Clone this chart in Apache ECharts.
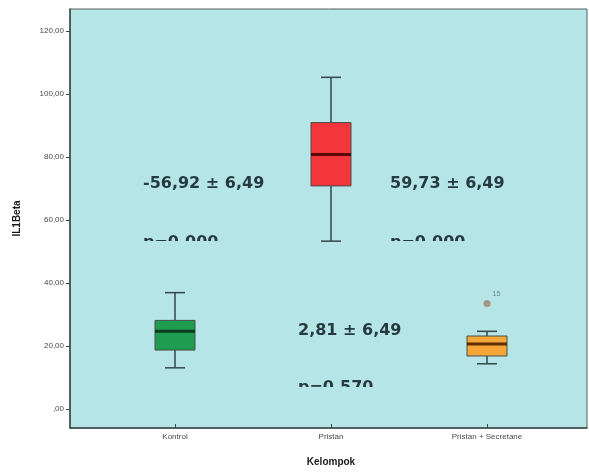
<!DOCTYPE html>
<html>
<head>
<meta charset="utf-8">
<script src="https://cdn.jsdelivr.net/npm/echarts@6/dist/echarts.min.js"></script>
<style>
  html, body { margin: 0; padding: 0; background: #fff; }
  #chart { width: 589px; height: 472px; }
</style>
</head>
<body>
<div id="chart"></div>
<script>
const categories = ["Kontrol", "Pristan", "Pristan + Secretane"];
// low whisker, Q1, median, Q3, high whisker
const kontrolBox = [12.0, 17.7, 23.7, 27.2, 36.1];
const pristanBox = [52.6, 70.3, 80.4, 90.6, 105.1];
const secretaneBox = [13.3, 15.8, 19.6, 22.2, 23.7];
const outliers = [[2, 32.6, "15"]];
const yTicks = [0, 20, 40, 60, 80, 100, 120];

const boxFill = ["#1f9c50", "#f2363c", "#f5a638"];
const medianColor = ["#0c3a1d", "#5a0808", "#5e2c00"];
const bg = "#b5e5e6";
const ink = "#263b3f";

const fmtTick = (v) => (v === 0 ? ",00" : v.toFixed(2).replace(".", ","));

const boxes = [kontrolBox, pristanBox, secretaneBox].map((b, i) => [i, ...b]);

const chart = echarts.init(document.getElementById("chart"));

const renderBox = (params, api) => {
  const i = api.value(0);
  const pLow = api.coord([i, api.value(1)]);
  const pQ1 = api.coord([i, api.value(2)]);
  const pMed = api.coord([i, api.value(3)]);
  const pQ3 = api.coord([i, api.value(4)]);
  const pHigh = api.coord([i, api.value(5)]);
  const cx = pMed[0];
  const half = 20;
  const cap = 10;
  const line = { stroke: "#34464a", lineWidth: 1.5 };
  return {
    type: "group",
    children: [
      { type: "line", shape: { x1: cx, y1: pHigh[1], x2: cx, y2: pQ3[1] }, style: line },
      { type: "line", shape: { x1: cx, y1: pQ1[1], x2: cx, y2: pLow[1] }, style: line },
      { type: "line", shape: { x1: cx - cap, y1: pHigh[1], x2: cx + cap, y2: pHigh[1] }, style: line },
      { type: "line", shape: { x1: cx - cap, y1: pLow[1], x2: cx + cap, y2: pLow[1] }, style: line },
      {
        type: "rect",
        shape: { x: cx - half, y: pQ3[1], width: half * 2, height: pQ1[1] - pQ3[1] },
        style: { fill: boxFill[i], stroke: "#44504a", lineWidth: 1 },
      },
      {
        type: "line",
        shape: { x1: cx - half, y1: pMed[1], x2: cx + half, y2: pMed[1] },
        style: { stroke: medianColor[i], lineWidth: 3 },
      },
    ],
  };
};

const textFont = "DejaVu Sans";
const note = (x, y, text) => ({
  type: "text",
  left: x,
  top: y,
  z: 10,
  style: { text, fill: ink, font: "bold 16px '" + textFont + "'" },
});
// the p-value lines are cut in half in the original picture
const cover = (x, y, w) => ({
  type: "rect",
  left: x,
  top: y,
  z: 11,
  shape: { width: w, height: 14 },
  style: { fill: bg },
});

const option = {
  animation: false,
  backgroundColor: "#ffffff",
  grid: [
    {
      left: 70, right: 2, top: 9, bottom: 44,
      show: true, backgroundColor: bg, borderColor: "#56605f", borderWidth: 1,
    },
    { left: 97, right: 24, top: 9, bottom: 44 },
  ],
  xAxis: [
    {
      gridIndex: 0, type: "category", data: categories,
      axisLine: { onZero: false, lineStyle: { color: "#3c4848", width: 1.5 } },
      axisTick: { show: false }, axisLabel: { show: false },
    },
    {
      gridIndex: 1, type: "category", data: categories,
      axisLine: { show: false, onZero: false },
      axisTick: { show: true, alignWithLabel: true, length: 4, lineStyle: { color: "#3c4848" } },
      axisLabel: { fontSize: 8, color: "#4a4a4a", margin: 9, fontFamily: "Liberation Sans" },
      name: "Kelompok", nameLocation: "middle", nameGap: 33,
      nameTextStyle: { fontSize: 10, fontWeight: "bold", color: "#1a1a1a", fontFamily: "Liberation Sans" },
    },
  ],
  yAxis: [
    {
      gridIndex: 0, type: "value", min: -6, max: 127,
      axisLine: { show: true, lineStyle: { color: "#3c4848", width: 1.5 } },
      axisTick: { show: true, length: 4, customValues: yTicks, lineStyle: { color: "#3c4848" } },
      axisLabel: {
        customValues: yTicks, formatter: fmtTick, fontSize: 8, color: "#4a4a4a",
        margin: 6, fontFamily: "Liberation Sans",
      },
      splitLine: { show: false },
      name: "IL1Beta", nameLocation: "middle", nameGap: 48,
      nameTextStyle: { fontSize: 10, fontWeight: "bold", color: "#1a1a1a", fontFamily: "Liberation Sans" },
    },
    { gridIndex: 1, type: "value", min: -6, max: 127, show: false, splitLine: { show: false } },
  ],
  series: [
    {
      type: "custom",
      xAxisIndex: 1, yAxisIndex: 1,
      renderItem: renderBox,
      encode: { x: 0, y: [1, 2, 3, 4, 5] },
      data: boxes,
    },
    {
      type: "scatter",
      xAxisIndex: 1, yAxisIndex: 1,
      symbolSize: 7,
      itemStyle: { color: "#a57f69" },
      label: {
        show: true, position: [9, -9], fontSize: 7, color: "#5a6a6a",
        formatter: (p) => p.data[2],
      },
      data: outliers,
    },
  ],
  graphic: [
    note(143, 176, "-56,92 ± 6,49"),
    note(390, 176, "59,73 ± 6,49"),
    note(298, 323, "2,81 ± 6,49"),
    note(143, 235, "p=0,000"),
    cover(140, 241, 85),
    note(390, 235, "p=0,000"),
    cover(387, 241, 85),
    note(298, 380, "p=0,570"),
    cover(295, 387, 85),
  ],
};

chart.setOption(option);
</script>
</body>
</html>
